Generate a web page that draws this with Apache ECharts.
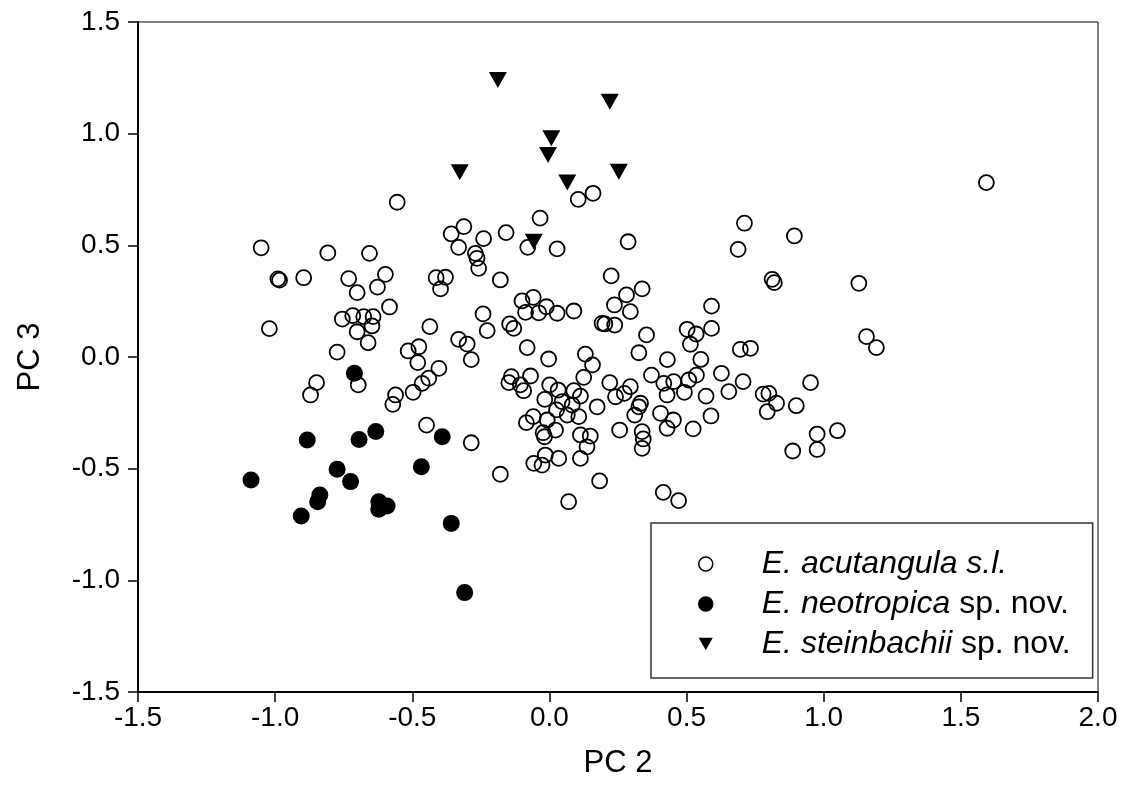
<!DOCTYPE html>
<html>
<head>
<meta charset="utf-8">
<script src="https://cdn.jsdelivr.net/npm/echarts@6/dist/echarts.min.js"></script>
<style>
html,body{margin:0;padding:0;background:#fff;}
#c{width:1124px;height:806px;}
</style>
</head>
<body>
<div id="c"></div>
<script>
// ---- data: [PC2, PC3] ----
const seriesNames = ['E. acutangula s.l.', 'E. neotropica sp. nov.', 'E. steinbachii sp. nov.'];
const xTicks = [-1.5, -1.0, -0.5, 0.0, 0.5, 1.0, 1.5, 2.0];
const yTicks = [-1.5, -1.0, -0.5, 0.0, 0.5, 1.0, 1.5];

const acutangula = [
  [-0.555,0.693],[-0.358,0.551],[-1.051,0.489],[-0.808,0.466],[-0.656,0.464],
  [-0.990,0.350],[-0.984,0.344],[-0.896,0.355],[-0.732,0.351],[-0.598,0.370],
  [-0.701,0.288],[-0.627,0.313],[-0.413,0.355],[-0.379,0.357],[-0.397,0.305],
  [-0.583,0.224],[-0.755,0.170],[-0.717,0.185],[-0.677,0.181],[-0.643,0.181],
  [-0.647,0.139],[-0.701,0.113],[-0.661,0.064],[-1.021,0.127],[-0.436,0.136],
  [-0.774,0.022],[-0.515,0.027],[-0.476,0.046],
  [0.105,0.706],[0.159,0.733],[-0.034,0.622],[-0.312,0.584],[-0.240,0.530],
  [-0.158,0.557],[-0.331,0.491],[-0.079,0.491],[0.028,0.484],[0.287,0.516],
  [-0.270,0.464],[-0.264,0.442],[-0.258,0.397],[-0.179,0.345],[0.225,0.363],
  [0.338,0.305],[0.281,0.278],[0.237,0.233],[0.295,0.203],[-0.100,0.251],
  [-0.059,0.267],[-0.011,0.225],[-0.087,0.200],[-0.039,0.198],[0.028,0.196],
  [0.089,0.206],[-0.242,0.193],[-0.227,0.118],[-0.145,0.148],[-0.130,0.128],
  [0.192,0.151],[0.202,0.148],[0.238,0.143],[0.354,0.099],[-0.331,0.079],
  [-0.300,0.058],[-0.081,0.042],[0.326,0.019],[-0.003,-0.009],[0.131,0.013],
  [-0.285,-0.012],
  [0.711,0.599],[0.688,0.482],[0.893,0.542],[0.812,0.348],[0.820,0.333],
  [1.128,0.330],[0.591,0.228],[0.502,0.124],[0.535,0.103],[0.591,0.128],
  [0.514,0.057],[0.696,0.034],[0.733,0.039],[1.156,0.091],[1.192,0.042],
  [1.593,0.781],[1.050,-0.330],[0.430,-0.012],[0.552,-0.011],
  [-0.849,-0.115],[-0.871,-0.170],[-0.697,-0.125],[-0.480,-0.025],[-0.403,-0.051],
  [-0.440,-0.095],[-0.464,-0.118],[-0.497,-0.158],[-0.561,-0.170],[-0.571,-0.212],
  [-0.448,-0.305],
  [0.157,-0.035],[0.125,-0.091],[0.220,-0.115],[0.295,-0.133],[0.273,-0.163],
  [0.241,-0.178],[0.332,-0.207],[0.326,-0.223],[0.372,-0.081],[0.417,-0.118],
  [0.429,-0.170],[0.405,-0.252],[0.429,-0.319],[0.311,-0.260],[0.338,-0.334],
  [0.342,-0.367],[0.338,-0.409],[0.256,-0.327],[0.174,-0.223],[-0.139,-0.088],
  [-0.069,-0.085],[-0.148,-0.115],[-0.106,-0.125],[-0.094,-0.151],[0.001,-0.125],
  [0.032,-0.148],[-0.017,-0.190],[0.046,-0.200],[0.089,-0.151],[0.113,-0.175],
  [0.083,-0.215],[0.026,-0.237],[0.065,-0.260],[0.107,-0.267],[-0.059,-0.267],
  [-0.084,-0.294],[-0.008,-0.282],[0.022,-0.327],[-0.023,-0.339],[-0.018,-0.357],
  [0.113,-0.349],[0.149,-0.354],[0.137,-0.402],[0.113,-0.454],[-0.015,-0.439],
  [-0.057,-0.476],[-0.027,-0.484],[0.034,-0.454],[-0.285,-0.384],[-0.179,-0.525],
  [0.070,-0.648],[0.183,-0.555],[0.415,-0.606],
  [0.453,-0.110],[0.508,-0.103],[0.536,-0.081],[0.492,-0.158],[0.627,-0.073],
  [0.706,-0.110],[0.654,-0.155],[0.571,-0.175],[0.589,-0.264],[0.524,-0.322],
  [0.452,-0.282],[0.779,-0.166],[0.800,-0.163],[0.828,-0.207],[0.794,-0.245],
  [0.900,-0.218],[0.952,-0.115],[0.976,-0.345],[0.887,-0.421],[0.976,-0.414],
  [0.471,-0.643]
];

const neotropica = [
  [-0.711,-0.073],[-0.883,-0.372],[-0.694,-0.369],[-0.633,-0.334],[-0.391,-0.357],
  [-1.088,-0.551],[-0.774,-0.503],[-0.725,-0.558],[-0.467,-0.491],[-0.837,-0.618],
  [-0.845,-0.648],[-0.905,-0.712],[-0.622,-0.648],[-0.592,-0.667],[-0.622,-0.682],
  [-0.358,-0.745],[-0.309,-1.055]
];

const steinbachii = [
  [-0.188,1.240],[0.220,1.143],[0.007,0.979],[-0.005,0.905],
  [-0.327,0.827],[0.253,0.830],[0.065,0.781],[-0.057,0.516]
];

// ---- chart ----
const FONT = '"Liberation Sans", Arial, Helvetica, sans-serif';
const chart = echarts.init(document.getElementById('c'), null, {renderer: 'canvas'});

function axisCommon(ticks, name) {
  return {
    type: 'value',
    min: ticks[0],
    max: ticks[ticks.length - 1],
    interval: 0.5,
    name: name,
    nameLocation: 'middle',
    nameTextStyle: {fontFamily: FONT, fontSize: 31, color: '#000'},
    axisLine: {show: true, onZero: false, lineStyle: {color: '#000', width: 2}},
    axisTick: {show: true, inside: false, length: 10, lineStyle: {color: '#000', width: 1.5}},
    axisLabel: {
      fontFamily: FONT, fontSize: 28, color: '#000',
      showMinLabel: true, showMaxLabel: true,
      formatter: v => v.toFixed(1)
    },
    splitLine: {show: false}
  };
}

const xAxis = axisCommon(xTicks, 'PC 2');
xAxis.nameGap = 56;
xAxis.axisLabel.margin = 12;
const yAxis = axisCommon(yTicks, 'PC 3');
yAxis.nameGap = 92;
yAxis.axisLabel.margin = 18;

const LF = 32;
chart.setOption({
  animation: false,
  backgroundColor: '#fff',
  grid: {
    left: 138, right: 26, top: 22, bottom: 114,
    show: true, borderColor: '#000', borderWidth: 1, backgroundColor: 'transparent'
  },
  xAxis: xAxis,
  yAxis: yAxis,
  legend: {
    orient: 'vertical',
    left: 651, top: 523,
    padding: [25, 22, 18, 47],
    itemWidth: 14, itemHeight: 14, itemGap: 8,
    backgroundColor: '#fff',
    borderColor: '#333', borderWidth: 1.5, borderRadius: 0,
    selectedMode: false,
    data: seriesNames,
    itemStyle: {borderWidth: 1.5},
    textStyle: {
      fontFamily: FONT, fontSize: LF, color: '#000', lineHeight: 32,
      rich: {
        s: {width: 44, lineHeight: 32},
        i: {fontFamily: FONT, fontSize: LF, fontStyle: 'italic', color: '#000', lineHeight: 32},
        n: {fontFamily: FONT, fontSize: LF, color: '#000', lineHeight: 32}
      }
    },
    formatter: function (name) {
      if (name === seriesNames[0]) return '{s|}{i|E. acutangula s.l.}';
      if (name === seriesNames[1]) return '{s|}{i|E. neotropica}{n| sp. nov.}';
      return '{s|}{i|E. steinbachii}{n| sp. nov.}';
    }
  },
  series: [
    {
      name: seriesNames[0], type: 'scatter', data: acutangula,
      symbol: 'circle', symbolSize: 15,
      itemStyle: {color: 'rgba(0,0,0,0)', borderColor: '#000', borderWidth: 1.8, opacity: 1},
      emphasis: {disabled: true}, z: 2
    },
    {
      name: seriesNames[1], type: 'scatter', data: neotropica,
      symbol: 'circle', symbolSize: 17,
      itemStyle: {color: '#000', borderColor: '#000', borderWidth: 0, opacity: 1},
      emphasis: {disabled: true}, z: 3
    },
    {
      name: seriesNames[2], type: 'scatter', data: steinbachii,
      symbol: 'path://M0,0L20,0L10,18Z', symbolSize: [18, 16],
      itemStyle: {color: '#000', opacity: 1},
      emphasis: {disabled: true}, z: 4
    }
  ]
});
</script>
</body>
</html>
